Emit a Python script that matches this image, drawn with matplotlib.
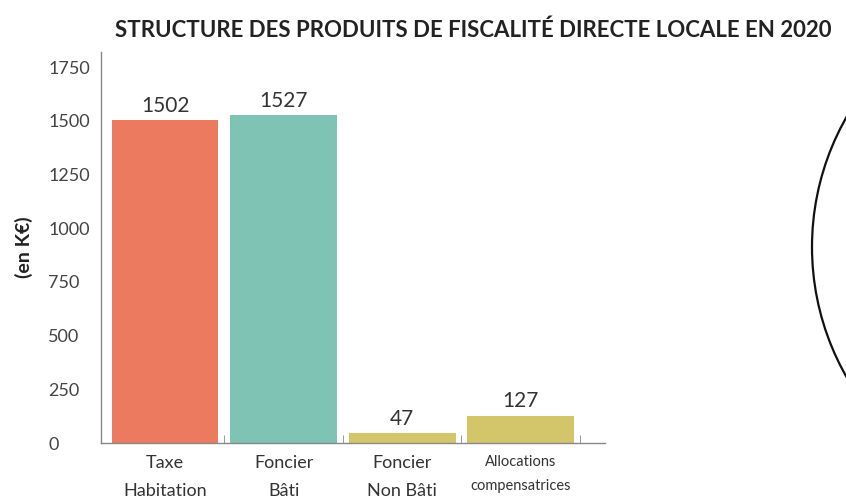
import matplotlib
matplotlib.use('Agg')
from matplotlib import pyplot as plt
from matplotlib.patches import Circle

# Chart data
categories = ['Taxe\nHabitation', 'Foncier\nBâti', 'Foncier\nNon Bâti', 'Allocations\ncompensatrices']
values = [1502, 1527, 47, 127]
colors = ['#EC7A5F', '#7EC3B3', '#D3C66A']
bar_colors = [colors[0], colors[1], colors[2], colors[2]]
yticks = [0, 250, 500, 750, 1000, 1250, 1500, 1750]

plt.rcParams['font.family'] = ['Lato', 'DejaVu Sans']

fig = plt.figure(figsize=(8.46, 5.0), dpi=100)
ax = fig.add_axes([0.1194, 0.114, 0.5956, 0.782])

x = list(range(len(categories)))
ax.bar(x, values, width=0.9, color=bar_colors)

# Value labels above bars
for xi, v in zip(x, values):
    ax.text(xi, v + 20, str(v), ha='center', va='bottom', fontsize=15, color='#333333')

ax.set_xlim(-0.54, 3.71)
ax.set_ylim(0, 1820)
ax.set_yticks(yticks)
ax.set_yticklabels([str(t) for t in yticks], fontsize=13, color='#444444', ha='left')
ax.tick_params(axis='y', length=0, pad=38)

ax.set_xticks(x)
ax.set_xticklabels(categories, fontsize=13, color='#333333', linespacing=1.9)
ax.get_xticklabels()[3].set_fontsize(10.5)
ax.tick_params(axis='x', length=0, pad=9)
ax.set_xticks([0.5, 1.5, 2.5, 3.5], minor=True)
ax.tick_params(axis='x', which='minor', direction='in', length=6, color='#888888')

for s in ['top', 'right']:
    ax.spines[s].set_visible(False)
ax.spines['left'].set_color('#888888')
ax.spines['bottom'].set_color('#888888')
ax.spines['left'].set_linewidth(1.0)
ax.spines['bottom'].set_linewidth(1.0)

ax.set_ylabel('(en K€)', fontsize=14, fontweight='bold', color='#222222')
ax.yaxis.set_label_coords(-0.135, 0.5)

fig.text(0.136, 0.94, 'STRUCTURE DES PRODUITS DE FISCALITÉ DIRECTE LOCALE EN 2020',
         fontsize=16, fontweight='bold', color='#222222', ha='left', va='center')

# Partial circle at the right edge of the page
circ = Circle((1074, 253), 262, transform=None, fill=False, edgecolor='#111111', linewidth=1.6)
fig.patches.append(circ)

fig.savefig('out.png', dpi=100)
